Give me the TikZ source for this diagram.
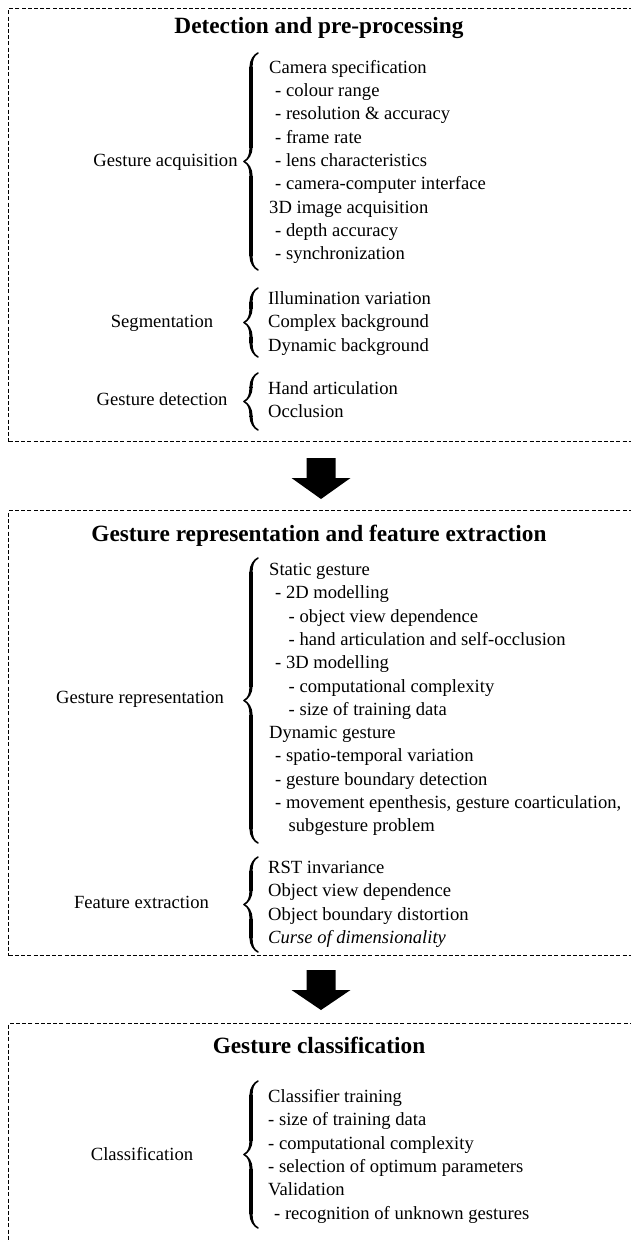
\documentclass[tikz,border=0pt]{standalone}
\usepackage{fontspec}
\setmainfont{Liberation Serif}
\usetikzlibrary{decorations.pathreplacing,calligraphy}
\newcommand\indA{\hspace*{6pt}}
\newcommand\indB{\hspace*{19.5pt}}
\begin{document}
\begin{tikzpicture}[x=1pt,y=-1pt,
  frame/.style={draw, dash pattern=on 4pt off 2.2pt, line width=1.4pt, inner sep=0pt, anchor=north west},
  ttl/.style={font=\fontsize{23.3}{28}\selectfont\bfseries, inner sep=0pt, anchor=base},
  lbl/.style={font=\fontsize{18.6}{23.3}\selectfont, inner sep=0pt},
  lst/.style={font=\fontsize{18.6}{23.3}\selectfont, inner sep=0pt, align=left, anchor=west},
  brc/.style={decorate, decoration={calligraphic brace, amplitude=14pt}, line width=3.2pt},
  blk/.style={fill=black}]
\useasboundingbox (0,0) rectangle (631,1242);
\clip (0,0) rectangle (631,1242);

% frames
\node[frame, minimum width=632pt, minimum height=433pt] (box1) at (8,8) {};
\node[frame, minimum width=632pt, minimum height=445pt] (box2) at (8,510) {};
\node[frame, minimum width=632pt, minimum height=260pt] (box3) at (8,1023) {};

% titles
\node[ttl] (t1) at (319,33) {Detection and pre-processing};
\node[ttl] (t2) at (319,541) {Gesture representation and feature extraction};
\node[ttl] (t3) at (319,1053) {Gesture classification};

% Gesture acquisition
\node[lbl] (ga) at (165.5,161.75) {\strut Gesture acquisition};
\node[lst] (gaL) at (269,161.75) {\strut Camera specification\\
\strut\indA- colour range\\
\strut\indA- resolution \& accuracy\\
\strut\indA- frame rate\\
\strut\indA- lens characteristics\\
\strut\indA- camera-computer interface\\
\strut 3D image acquisition\\
\strut\indA- depth accuracy\\
\strut\indA- synchronization};
\draw[brc] (258,270) -- (258,53);

% Segmentation
\node[lbl] (seg) at (162,323.15) {\strut Segmentation};
\node[lst] (segL) at (268,323.15) {\strut Illumination variation\\
\strut Complex background\\
\strut Dynamic background};
\draw[brc] (258,357) -- (258,288);

% Gesture detection
\node[lbl] (gd) at (162,401.3) {\strut Gesture detection};
\node[lst] (gdL) at (268,401.3) {\strut Hand articulation\\
\strut Occlusion};
\draw[brc] (258,430) -- (258,373);

% arrow 1
\coordinate (a1s) at (321,458);
\coordinate (a1e) at (321,499);
\fill[blk] (a1s) ++(-14.5,0) -- ++(29,0) -- ++(0,20) -- ++(15,0) -- (a1e) -- ++(-29.5,-21) -- ++(15,0) -- cycle;

% Gesture representation
\node[lbl] (gr) at (140,699) {\strut Gesture representation};
\node[lst] (grL) at (269,699) {\strut Static gesture\\
\strut\indA- 2D modelling\\
\strut\indB- object view dependence\\
\strut\indB- hand articulation and self-occlusion\\
\strut\indA- 3D modelling\\
\strut\indB- computational complexity\\
\strut\indB- size of training data\\
\strut Dynamic gesture\\
\strut\indA- spatio-temporal variation\\
\strut\indA- gesture boundary detection\\
\strut\indA- movement epenthesis, gesture coarticulation,\\
\strut\indB subgesture problem};
\draw[brc] (258,843) -- (258,558);

% Feature extraction
\node[lbl] (fe) at (141.5,903.8) {\strut Feature extraction};
\node[lst] (feL) at (268,903.8) {\strut RST invariance\\
\strut Object view dependence\\
\strut Object boundary distortion\\
\strut\textit{Curse of dimensionality}};
\draw[brc] (258,952) -- (258,857);

% arrow 2
\coordinate (a2s) at (321,970);
\coordinate (a2e) at (321,1010);
\fill[blk] (a2s) ++(-14.5,0) -- ++(29,0) -- ++(0,20) -- ++(15,0) -- (a2e) -- ++(-29.5,-20) -- ++(15,0) -- cycle;

% Classification
\node[lbl] (cl) at (142,1156.1) {\strut Classification};
\node[lst] (clL) at (268,1156.1) {\strut Classifier training\\
\strut - size of training data\\
\strut - computational complexity\\
\strut - selection of optimum parameters\\
\strut Validation\\
\strut\indA- recognition of unknown gestures};
\draw[brc] (258,1228) -- (258,1081);
\end{tikzpicture}
\end{document}
